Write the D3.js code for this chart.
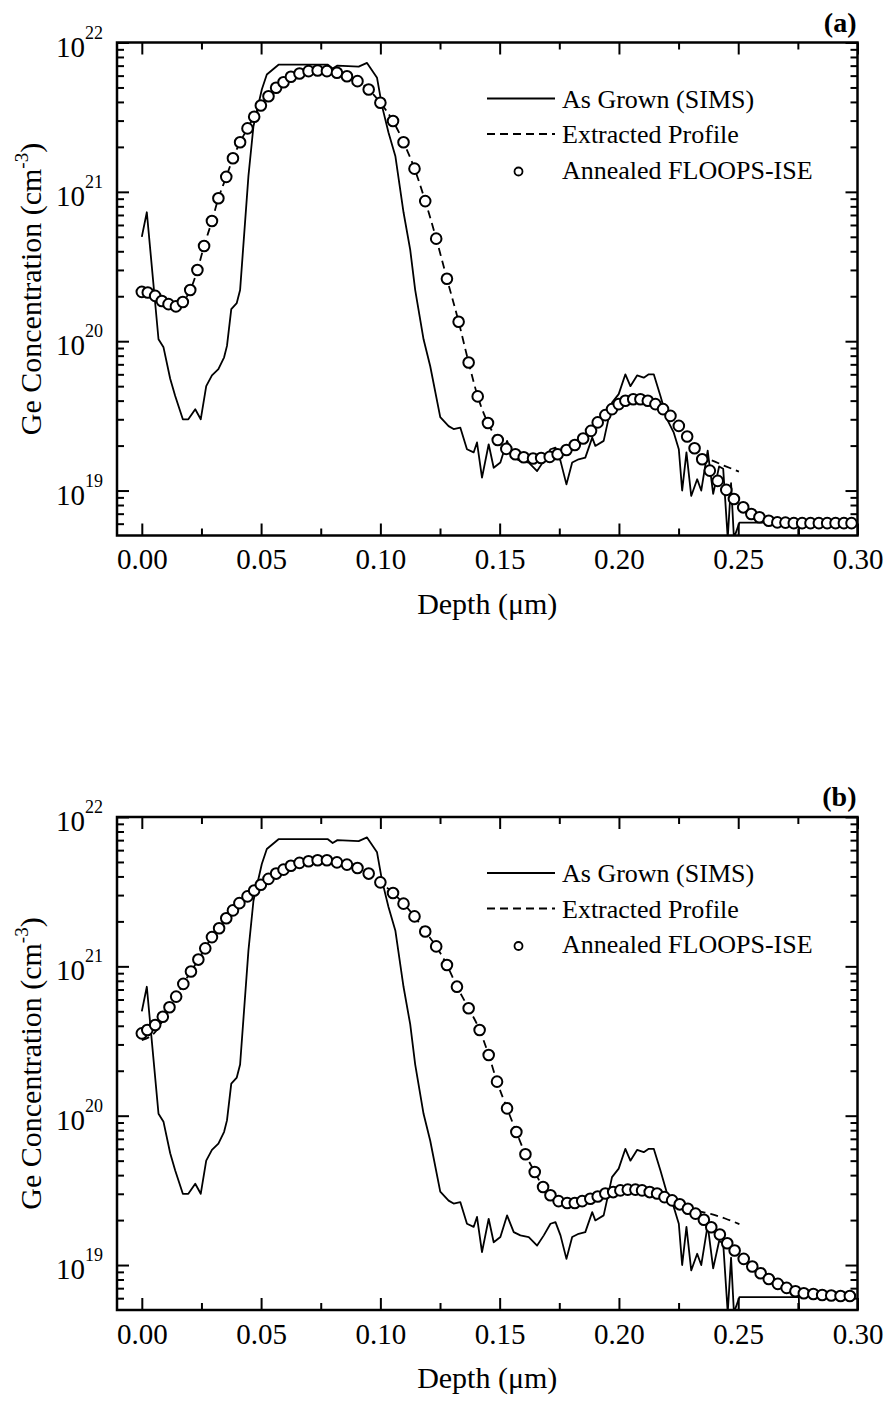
<!DOCTYPE html>
<html>
<head>
<meta charset="utf-8">
<script src="https://cdn.jsdelivr.net/npm/d3@7"></script>
<style>
  body { margin: 0; background: #fff; }
  text { font-family: "Liberation Serif", "Times New Roman", serif; fill: #000; }
</style>
</head>
<body>
<div id="chart"></div>
<script>
// ---- data (depth in um, concentration in cm^-3) ----
const simsDepth = [0.0000, 0.0021, 0.0070, 0.0091, 0.0119, 0.0140, 0.0172, 0.0195, 0.0224, 0.0247,
  0.0270, 0.0294, 0.0321, 0.0345, 0.0357, 0.0375, 0.0398, 0.0412, 0.0447, 0.0468,
  0.0503, 0.0524, 0.0573, 0.0780, 0.0800, 0.0820, 0.0909, 0.0944, 0.0986, 0.1007,
  0.1034, 0.1063, 0.1097, 0.1125, 0.1146, 0.1181, 0.1209, 0.1251, 0.1286, 0.1307,
  0.1335, 0.1363, 0.1391, 0.1405, 0.1426, 0.1454, 0.1475, 0.1503, 0.1531, 0.1559,
  0.1587, 0.1622, 0.1657, 0.1685, 0.1713, 0.1734, 0.1755, 0.1780, 0.1804, 0.1831,
  0.1859, 0.1888, 0.1901, 0.1936, 0.1971, 0.1999, 0.2027, 0.2048, 0.2076, 0.2104,
  0.2125, 0.2146, 0.2174, 0.2202, 0.2230, 0.2251, 0.2265, 0.2283, 0.2303, 0.2328,
  0.2345, 0.2372, 0.2395, 0.2420, 0.2437, 0.2456, 0.2470, 0.2482, 0.2505, 0.2754, 0.2757];
const simsConc = [5.0e20, 7.3e20, 1.03e20, 9.1e19, 5.6e19, 4.3e19, 3.0e19, 3.0e19, 3.5e19, 3.0e19,
  5.0e19, 5.9e19, 6.5e19, 7.8e19, 9.3e19, 1.64e20, 1.8e20, 2.2e20, 1.28e21, 2.75e21,
  4.85e21, 6.1e21, 7.1e21, 7.1e21, 6.7e21, 7.0e21, 6.9e21, 7.3e21, 5.8e21, 3.75e21,
  2.5e21, 1.73e21, 7.3e20, 4.1e20, 2.2e20, 1.03e20, 6.8e19, 3.1e19, 2.7e19, 2.58e19,
  2.64e19, 1.89e19, 1.8e19, 2.1e19, 1.22e19, 2.04e19, 1.42e19, 1.54e19, 2.15e19, 1.66e19,
  1.58e19, 1.54e19, 1.35e19, 1.58e19, 1.89e19, 1.94e19, 1.58e19, 1.1e19, 1.54e19, 1.62e19,
  1.66e19, 2.26e19, 1.99e19, 2.15e19, 3.88e19, 4.42e19, 6.0e19, 5.0e19, 5.9e19, 5.7e19,
  6.0e19, 6.0e19, 4.3e19, 3.0e19, 2.44e19, 1.89e19, 1.0e19, 1.8e19, 9.2e18, 1.19e19,
  1.0e19, 1.85e19, 9.5e18, 1.45e19, 1.4e19, 4.8e18, 1.12e19, 4.8e18, 6.1e18, 6.1e18, 4.0e18];

// panel (a)
const annealADepth = [0.0000, 0.0025, 0.0056, 0.0084, 0.0112, 0.0143, 0.0172, 0.0203, 0.0233, 0.0261,
  0.0294, 0.0321, 0.0354, 0.0382, 0.0412, 0.0443, 0.0471, 0.0499, 0.0531, 0.0563,
  0.0594, 0.0625, 0.0661, 0.0699, 0.0737, 0.0776, 0.0818, 0.0860, 0.0904, 0.0951,
  0.1000, 0.1053, 0.1097, 0.1143, 0.1188, 0.1234, 0.1279, 0.1328, 0.1370, 0.1408,
  0.1451, 0.1492, 0.1528, 0.1566, 0.1601, 0.1640, 0.1674, 0.1710, 0.1743, 0.1780,
  0.1815, 0.1850, 0.1883, 0.1911, 0.1943, 0.1971, 0.1999, 0.2027, 0.2060, 0.2090,
  0.2121, 0.2153, 0.2185, 0.2216, 0.2251, 0.2286, 0.2317, 0.2349, 0.2381, 0.2414,
  0.2450, 0.2482, 0.2521, 0.2555, 0.2589, 0.2628, 0.2664, 0.2698, 0.2733, 0.2768,
  0.2803, 0.2838, 0.2873, 0.2908, 0.2943, 0.2975];
const annealAConc = [2.14e20, 2.12e20, 2.01e20, 1.86e20, 1.77e20, 1.71e20, 1.83e20, 2.2e20, 3.0e20, 4.34e20,
  6.38e20, 9.05e20, 1.26e21, 1.68e21, 2.15e21, 2.66e21, 3.18e21, 3.79e21, 4.37e21, 4.98e21,
  5.42e21, 5.9e21, 6.2e21, 6.43e21, 6.5e21, 6.43e21, 6.27e21, 5.95e21, 5.51e21, 4.85e21,
  3.95e21, 2.98e21, 2.15e21, 1.43e21, 8.67e20, 4.86e20, 2.62e20, 1.35e20, 7.2e19, 4.27e19,
  2.83e19, 2.18e19, 1.9e19, 1.75e19, 1.67e19, 1.64e19, 1.65e19, 1.68e19, 1.75e19, 1.87e19,
  2.02e19, 2.23e19, 2.51e19, 2.86e19, 3.2e19, 3.51e19, 3.79e19, 3.99e19, 4.09e19, 4.09e19,
  3.99e19, 3.79e19, 3.51e19, 3.16e19, 2.71e19, 2.3e19, 1.92e19, 1.62e19, 1.36e19, 1.16e19,
  1.01e19, 8.77e18, 7.72e18, 6.97e18, 6.62e18, 6.28e18, 6.12e18, 6.1e18, 6.05e18, 6.05e18,
  6.05e18, 6.05e18, 6.05e18, 6.05e18, 6.05e18, 6.05e18];
const extractADepth = [0.0000, 0.0056, 0.0112, 0.0143, 0.0172, 0.0203, 0.0233, 0.0261, 0.0294, 0.0321,
  0.0354, 0.0382, 0.0412, 0.0443, 0.0499, 0.0563, 0.0625, 0.0699, 0.0737, 0.0776,
  0.0860, 0.0951, 0.1000, 0.1053, 0.1097, 0.1143, 0.1188, 0.1234, 0.1279, 0.1328,
  0.1370, 0.1408, 0.1451, 0.1492, 0.1566, 0.1640, 0.1710, 0.1780, 0.1850, 0.1911,
  0.1971, 0.2027, 0.2090, 0.2153, 0.2216, 0.2286, 0.2317, 0.2349, 0.2384, 0.2440, 0.2503];
const extractAConc = [2.14e20, 2.01e20, 1.77e20, 1.71e20, 1.83e20, 2.2e20, 3.0e20, 4.34e20, 6.38e20, 9.05e20,
  1.26e21, 1.68e21, 2.15e21, 2.66e21, 3.79e21, 4.98e21, 5.9e21, 6.43e21, 6.5e21, 6.43e21,
  5.95e21, 4.85e21, 3.95e21, 2.98e21, 2.15e21, 1.43e21, 8.67e20, 4.86e20, 2.62e20, 1.35e20,
  7.2e19, 4.27e19, 2.83e19, 2.18e19, 1.75e19, 1.64e19, 1.68e19, 1.87e19, 2.23e19, 2.86e19,
  3.51e19, 3.99e19, 4.09e19, 3.79e19, 3.16e19, 2.3e19, 1.92e19, 1.65e19, 1.6e19, 1.47e19, 1.34e19];

// panel (b)
const annealBDepth = [0.0000, 0.0023, 0.0056, 0.0088, 0.0116, 0.0144, 0.0174, 0.0206, 0.0237, 0.0266,
  0.0294, 0.0324, 0.0354, 0.0382, 0.0409, 0.0443, 0.0471, 0.0499, 0.0531, 0.0563,
  0.0594, 0.0625, 0.0661, 0.0699, 0.0737, 0.0776, 0.0818, 0.0860, 0.0904, 0.0951,
  0.1000, 0.1053, 0.1097, 0.1143, 0.1188, 0.1234, 0.1279, 0.1321, 0.1370, 0.1416,
  0.1454, 0.1489, 0.1531, 0.1570, 0.1608, 0.1647, 0.1682, 0.1713, 0.1747, 0.1783,
  0.1815, 0.1846, 0.1880, 0.1911, 0.1943, 0.1976, 0.2006, 0.2037, 0.2069, 0.2097,
  0.2129, 0.2160, 0.2191, 0.2223, 0.2255, 0.2289, 0.2321, 0.2356, 0.2387, 0.2423,
  0.2454, 0.2485, 0.2523, 0.2559, 0.2594, 0.2628, 0.2666, 0.2703, 0.2740, 0.2775,
  0.2815, 0.2852, 0.2890, 0.2929, 0.2968];
const annealBConc = [3.56e20, 3.75e20, 4.05e20, 4.6e20, 5.32e20, 6.27e20, 7.63e20, 9.23e20, 1.11e21, 1.32e21,
  1.57e21, 1.8e21, 2.1e21, 2.37e21, 2.65e21, 2.94e21, 3.22e21, 3.52e21, 3.85e21, 4.18e21,
  4.44e21, 4.72e21, 4.93e21, 5.05e21, 5.13e21, 5.13e21, 4.97e21, 4.8e21, 4.56e21, 4.18e21,
  3.65e21, 3.1e21, 2.63e21, 2.16e21, 1.71e21, 1.36e21, 1.02e21, 7.31e20, 5.24e20, 3.75e20,
  2.55e20, 1.69e20, 1.12e20, 7.78e19, 5.52e19, 4.2e19, 3.33e19, 2.93e19, 2.68e19, 2.6e19,
  2.6e19, 2.68e19, 2.78e19, 2.88e19, 3.01e19, 3.08e19, 3.16e19, 3.2e19, 3.2e19, 3.16e19,
  3.08e19, 3.01e19, 2.85e19, 2.71e19, 2.55e19, 2.38e19, 2.21e19, 2.01e19, 1.79e19, 1.6e19,
  1.4e19, 1.25e19, 1.1e19, 9.77e18, 8.81e18, 8.07e18, 7.48e18, 7.03e18, 6.67e18, 6.47e18,
  6.4e18, 6.3e18, 6.25e18, 6.2e18, 6.2e18];
const extractBDepth = [0.0000, 0.0050, 0.0116, 0.0174, 0.0237, 0.0294, 0.0354, 0.0409, 0.0471, 0.0531,
  0.0594, 0.0661, 0.0737, 0.0818, 0.0904, 0.1000, 0.1053, 0.1097, 0.1143, 0.1188,
  0.1234, 0.1279, 0.1321, 0.1370, 0.1416, 0.1454, 0.1489, 0.1531, 0.1570, 0.1608,
  0.1647, 0.1682, 0.1713, 0.1783, 0.1846, 0.1911, 0.1976, 0.2037, 0.2097, 0.2160,
  0.2223, 0.2289, 0.2340, 0.2384, 0.2445, 0.2505];
const extractBConc = [3.2e20, 3.55e20, 5.2e20, 7.63e20, 1.11e21, 1.57e21, 2.1e21, 2.65e21, 3.22e21, 3.85e21,
  4.44e21, 4.93e21, 5.13e21, 4.97e21, 4.56e21, 3.65e21, 3.1e21, 2.63e21, 2.16e21, 1.71e21,
  1.36e21, 1.02e21, 7.31e20, 5.24e20, 3.75e20, 2.55e20, 1.69e20, 1.12e20, 7.78e19, 5.52e19,
  4.2e19, 3.33e19, 2.93e19, 2.6e19, 2.68e19, 2.88e19, 3.08e19, 3.2e19, 3.16e19, 3.01e19,
  2.71e19, 2.38e19, 2.28e19, 2.2e19, 2.05e19, 1.88e19];

// axes
const xMajor = [0.00, 0.05, 0.10, 0.15, 0.20, 0.25, 0.30];
const xMinor = [0.025, 0.075, 0.125, 0.175, 0.225, 0.275];
const yDecades = [19, 20, 21, 22];
const legendLabels = ["As Grown (SIMS)", "Extracted Profile", "Annealed FLOOPS-ISE"];
const panelLabels = ["(a)", "(b)"];

const width = 888;
const height = 1402;
const left = 117;
const plotW = 740.5;
const plotH = 493;

const svg = d3.select("#chart")
  .append("svg")
  .attr("width", width)
  .attr("height", height)
  .attr("font-family", "Liberation Serif")
  .style("background", "#fff");

// minor ticks 2..9 for each decade inside the domain
const yMinor = [];
for (let e = 18; e <= 21; e++) {
  for (let m = 2; m <= 9; m++) {
    const v = m * Math.pow(10, e);
    if (v > 5e18 && v < 1e22) yMinor.push(v);
  }
}

function drawPanel(top, label, aDepth, aConc, eDepth, eConc, id) {
  const g = svg.append("g").attr("transform", `translate(${left},${top})`);

  const x = d3.scaleLinear().domain([-0.0104, 0.30]).range([0, plotW]);
  const y = d3.scaleLog().domain([5e18, 1e22]).range([plotH, 0]);

  g.append("clipPath").attr("id", "clip" + id)
    .append("rect").attr("width", plotW).attr("height", plotH);

  // ticks, all pointing inward
  const addAxis = (axis, tr) => {
    const a = g.append("g").attr("transform", tr).call(axis);
    a.select(".domain").remove();
    a.attr("font-family", "Liberation Serif");
    a.selectAll(".tick line").attr("stroke", "#000").attr("stroke-width", 2);
    return a;
  };

  const xb = addAxis(d3.axisBottom(x).tickValues(xMajor).tickSize(-12).tickPadding(13)
    .tickFormat(d3.format(".2f")), `translate(0,${plotH})`);
  xb.selectAll("text").attr("font-size", 29);
  addAxis(d3.axisBottom(x).tickValues(xMinor).tickSize(-7).tickFormat(""), `translate(0,${plotH})`);
  addAxis(d3.axisTop(x).tickValues(xMajor).tickSize(-12).tickFormat(""), "translate(0,0)");
  addAxis(d3.axisTop(x).tickValues(xMinor).tickSize(-7).tickFormat(""), "translate(0,0)");

  const decadeVals = yDecades.map(e => Math.pow(10, e));
  addAxis(d3.axisLeft(y).tickValues(decadeVals).tickSize(-12).tickFormat(""), "translate(0,0)");
  addAxis(d3.axisLeft(y).tickValues(yMinor).tickSize(-7).tickFormat(""), "translate(0,0)");
  addAxis(d3.axisRight(y).tickValues(decadeVals).tickSize(-12).tickFormat(""), `translate(${plotW},0)`);
  addAxis(d3.axisRight(y).tickValues(yMinor).tickSize(-7).tickFormat(""), `translate(${plotW},0)`);

  // decade labels 10^n
  yDecades.forEach(e => {
    const t = g.append("text")
      .attr("x", -14)
      .attr("y", y(Math.pow(10, e)) + 14)
      .attr("text-anchor", "end")
      .attr("font-size", 29);
    t.append("tspan").text("10");
    t.append("tspan").attr("dy", -18).attr("font-size", 18).text(e);
  });

  // frame
  g.append("rect")
    .attr("width", plotW).attr("height", plotH)
    .attr("fill", "none").attr("stroke", "#000").attr("stroke-width", 2.5);

  const plot = g.append("g").attr("clip-path", `url(#clip${id})`);

  const line = d3.line().x(d => x(d[0])).y(d => y(d[1]));

  plot.append("path")
    .datum(simsDepth.map((d, i) => [d, simsConc[i]]))
    .attr("d", line)
    .attr("fill", "none").attr("stroke", "#000").attr("stroke-width", 1.8)
    .attr("stroke-linejoin", "round");

  plot.append("path")
    .datum(eDepth.map((d, i) => [d, eConc[i]]))
    .attr("d", line.curve(d3.curveMonotoneX))
    .attr("fill", "none").attr("stroke", "#000").attr("stroke-width", 1.8)
    .attr("stroke-dasharray", "8,5");

  plot.selectAll("circle")
    .data(aDepth.map((d, i) => [d, aConc[i]]))
    .enter().append("circle")
    .attr("cx", d => x(d[0]))
    .attr("cy", d => y(d[1]))
    .attr("r", 5.3)
    .attr("fill", "#fff").attr("stroke", "#000").attr("stroke-width", 2);

  // axis titles
  g.append("text")
    .attr("x", plotW / 2).attr("y", plotH + 78)
    .attr("text-anchor", "middle").attr("font-size", 30)
    .text("Depth (\u03bcm)");

  const yt = g.append("text")
    .attr("transform", `translate(-76,${plotH / 2}) rotate(-90)`)
    .attr("text-anchor", "middle").attr("font-size", 30);
  yt.append("tspan").text("Ge Concentration (cm");
  yt.append("tspan").attr("dy", -13).attr("font-size", 19).text("-3");
  yt.append("tspan").attr("dy", 13).text(")");

  // panel label
  g.append("text")
    .attr("x", plotW - 1).attr("y", -11)
    .attr("text-anchor", "end").attr("font-size", 28).attr("font-weight", "bold")
    .text(label);

  // legend
  const lg = g.append("g").attr("transform", "translate(370,56)");
  const rowGap = 35.5;
  lg.append("line").attr("x1", 0).attr("x2", 68).attr("y1", 0).attr("y2", 0)
    .attr("stroke", "#000").attr("stroke-width", 1.8);
  lg.append("line").attr("x1", 0).attr("x2", 68).attr("y1", rowGap).attr("y2", rowGap)
    .attr("stroke", "#000").attr("stroke-width", 1.8).attr("stroke-dasharray", "8,5");
  lg.append("circle").attr("cx", 31.5).attr("cy", rowGap * 2 + 2).attr("r", 4)
    .attr("fill", "#fff").attr("stroke", "#000").attr("stroke-width", 1.8);
  legendLabels.forEach((t, i) => {
    lg.append("text")
      .attr("x", 75).attr("y", i * rowGap + 9)
      .attr("font-size", 26)
      .text(t);
  });
}

drawPanel(42.5, panelLabels[0], annealADepth, annealAConc, extractADepth, extractAConc, "a");
drawPanel(817, panelLabels[1], annealBDepth, annealBConc, extractBDepth, extractBConc, "b");
</script>
</body>
</html>
